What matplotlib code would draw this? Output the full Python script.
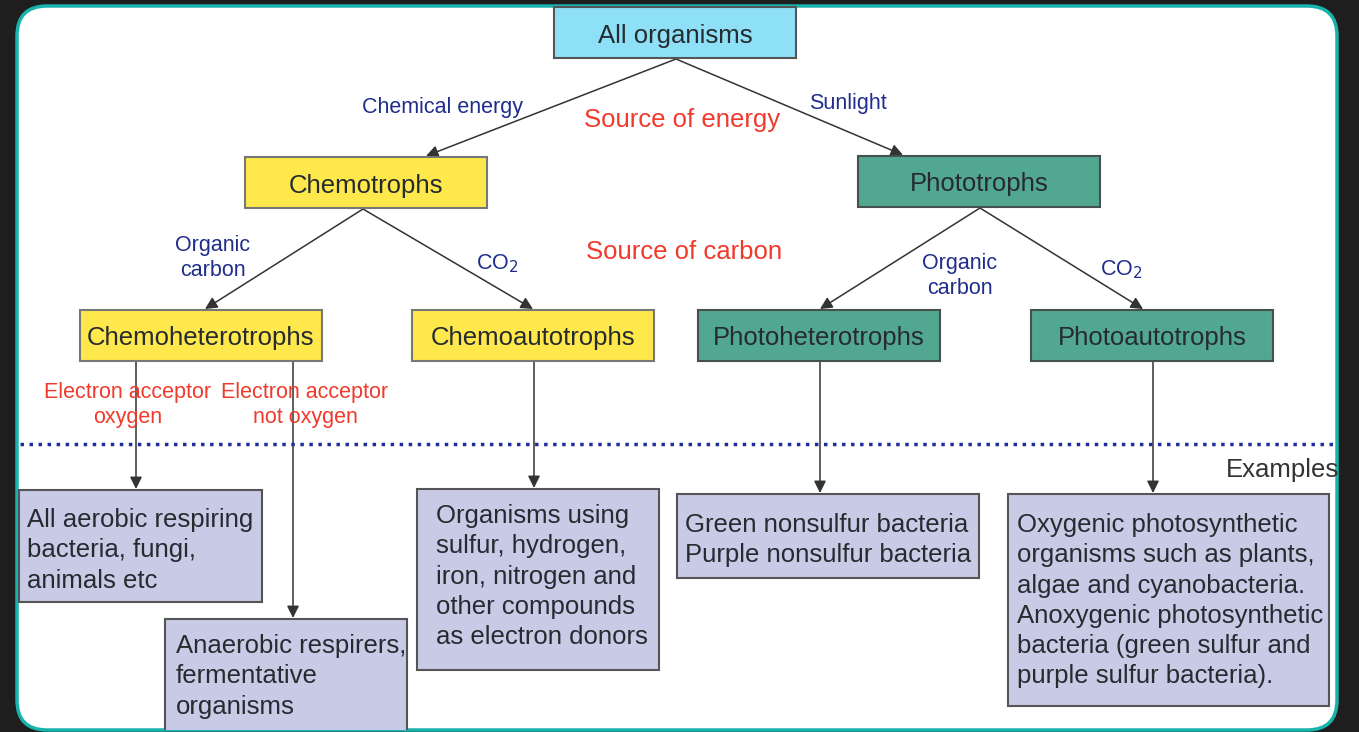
import matplotlib.pyplot as plt
from matplotlib.patches import Rectangle, FancyBboxPatch

plt.rcParams['font.family'] = ['Liberation Sans', 'DejaVu Sans']

# node labels
top_label = "All organisms"
level1_labels = ["Chemotrophs", "Phototrophs"]
level2_labels = ["Chemoheterotrophs", "Chemoautotrophs", "Photoheterotrophs", "Photoautotrophs"]
example_labels = [
    "All aerobic respiring\nbacteria, fungi,\nanimals etc",
    "Anaerobic respirers,\nfermentative\norganisms",
    "Organisms using\nsulfur, hydrogen,\niron, nitrogen and\nother compounds\nas electron donors",
    "Green nonsulfur bacteria\nPurple nonsulfur bacteria",
    "Oxygenic photosynthetic\norganisms such as plants,\nalgae and cyanobacteria.\nAnoxygenic photosynthetic\nbacteria (green sulfur and\npurple sulfur bacteria).",
]
branch_labels = ["Chemical energy", "Sunlight", "Organic\ncarbon", "CO$_2$", "Organic\ncarbon", "CO$_2$"]
criteria_labels = ["Source of energy", "Source of carbon"]
acceptor_labels = ["Electron acceptor\noxygen", "Electron acceptor\nnot oxygen"]

# box geometry in pixels (x0, y0, x1, y1), y pointing down
top_box = (554, 7, 796, 58)
level1_boxes = [(245, 157, 487, 208), (858, 156, 1100, 207)]
level2_boxes = [(80, 310, 322, 361), (412, 310, 654, 361), (698, 310, 940, 361), (1031, 310, 1273, 361)]
example_boxes = [(19, 490, 262, 602), (165, 619, 407, 740), (417, 489, 659, 670),
                 (677, 494, 979, 578), (1008, 494, 1329, 706)]
example_pad = [(8, 18), (11, 15), (19, 15), (8, 19), (9, 19)]

cyan = '#8ee0f6'
yellow = '#ffe84c'
teal = '#52a791'
lavender = '#c8cae6'
navy = '#1f2d8c'
red = '#ef3a2c'
ink = '#262b30'

fig = plt.figure(figsize=(13.59, 7.32), dpi=100)
fig.patch.set_facecolor('#1e1e1e')
ax = fig.add_axes([0, 0, 1, 1])
ax.set_xlim(0, 1359)
ax.set_ylim(732, 0)
ax.axis('off')

panel = FancyBboxPatch((17, 6), 1320, 724, boxstyle="round,pad=0,rounding_size=30",
                       facecolor='white', edgecolor='#19b3ad', lw=2.5, zorder=0)
ax.add_patch(panel)


def box(b, text, fc, ec, pad=None, fs=18.5):
    x0, y0, x1, y1 = b
    r = Rectangle((x0, y0), x1 - x0, y1 - y0, facecolor=fc, edgecolor=ec, lw=1.5, zorder=2)
    r.set_clip_path(panel)
    ax.add_patch(r)
    if pad is None:
        t = ax.text((x0 + x1) / 2, (y0 + y1) / 2 + 3, text, ha='center', va='center',
                    fontsize=fs, color=ink, zorder=3)
    else:
        t = ax.text(x0 + pad[0], y0 + pad[1], text, ha='left', va='top', fontsize=fs,
                    color=ink, zorder=3, linespacing=1.33)
    t.set_clip_path(panel)


def arrow(x0, y0, x1, y1):
    ax.annotate('', xy=(x1, y1), xytext=(x0, y0),
                arrowprops=dict(arrowstyle='-|>', color='#333333', lw=1.1,
                                mutation_scale=18, shrinkA=0, shrinkB=0), zorder=1)


box(top_box, top_label, cyan, '#555555')
box(level1_boxes[0], level1_labels[0], yellow, '#777777')
box(level1_boxes[1], level1_labels[1], teal, '#44514e')
for b, lab, fc in zip(level2_boxes, level2_labels, [yellow, yellow, teal, teal]):
    box(b, lab, fc, '#777777' if fc == yellow else '#44514e')
for b, lab, p in zip(example_boxes, example_labels, example_pad):
    box(b, lab, lavender, '#555555', pad=p)

# tree arrows
arrow(676, 59, 426, 156)
arrow(676, 59, 903, 155)
arrow(363, 209, 205, 309)
arrow(363, 209, 533, 309)
arrow(980, 208, 820, 309)
arrow(980, 208, 1143, 309)
arrow(136, 362, 136, 489)
arrow(293, 362, 293, 618)
arrow(534, 362, 534, 488)
arrow(820, 362, 820, 493)
arrow(1153, 362, 1153, 493)

# dotted divider
ax.plot([20, 1336], [444, 444], ls=(0, (1, 1.6)), color='#1f2d9c', lw=2.5, zorder=1)
ax.text(1339, 470, "Examples", ha='right', va='center', fontsize=18.5, color='#333333',
        zorder=3, clip_path=panel)

# branch labels
branch_pos = [(443, 107), (848, 104), (213, 258), (497, 264), (960, 276), (1121, 270)]
for (x, y), lab in zip(branch_pos, branch_labels):
    ax.text(x, y, lab, ha='center', va='center', fontsize=15.5, color=navy,
            linespacing=1.3, zorder=3)

ax.text(682, 120, criteria_labels[0], ha='center', va='center', fontsize=18.5, color=red, zorder=3)
ax.text(684, 252, criteria_labels[1], ha='center', va='center', fontsize=18.5, color=red, zorder=3)

for (x, y), lab in zip([(128, 405), (305, 405)], acceptor_labels):
    ax.text(x, y, lab, ha='center', va='center', fontsize=15.5, color=red,
            linespacing=1.3, zorder=3)

fig.savefig('out.png', dpi=100, facecolor=fig.get_facecolor())
